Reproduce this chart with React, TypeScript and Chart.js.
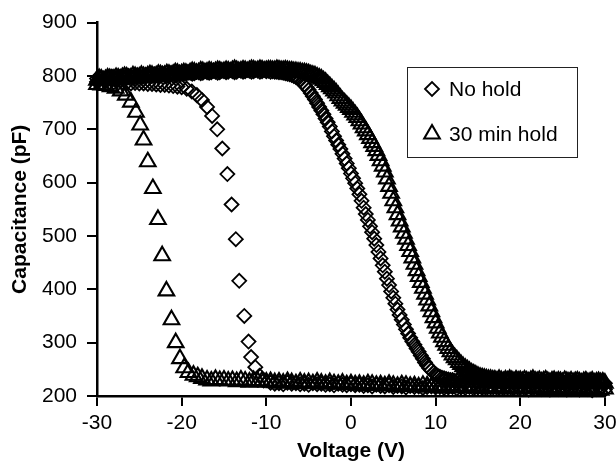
import { useEffect, useRef } from 'react';
import { Chart, registerables } from 'chart.js';
import { drawPoint } from 'chart.js/helpers';

Chart.register(...registerables);

// ---- Data ----
const seriesLabels = ['No hold', '30 min hold'];
const xTicks = [-30, -20, -10, 0, 10, 20, 30];
const yTicks = [200, 300, 400, 500, 600, 700, 800, 900];

// forward sweeps (-30 V -> +30 V), shared voltage list
const forwardVoltage = [
  -30, -29.75, -29.5, -29.25, -29, -28.75, -28.5, -28.25, -28, -27.75, -27.5, -27.25, -27, -26.75, -26.5, -26.25, -26, -25.75, -25.5, -25.25,
  -25, -24.75, -24.5, -24.25, -24, -23.75, -23.5, -23.25, -23, -22.75, -22.5, -22.25, -22, -21.75, -21.5, -21.25, -21, -20.75, -20.5, -20.25,
  -20, -19.75, -19.5, -19.25, -19, -18.75, -18.5, -18.25, -18, -17.75, -17.5, -17.25, -17, -16.75, -16.5, -16.25, -16, -15.75, -15.5, -15.25,
  -15, -14.75, -14.5, -14.25, -14, -13.75, -13.5, -13.25, -13, -12.75, -12.5, -12.25, -12, -11.75, -11.5, -11.25, -11, -10.75, -10.5, -10.25,
  -10, -9.75, -9.5, -9.25, -9, -8.75, -8.5, -8.25, -8, -7.75, -7.5, -7.25, -7, -6.75, -6.5, -6.25, -6, -5.75, -5.5, -5.25,
  -5, -4.75, -4.5, -4.25, -4, -3.75, -3.5, -3.25, -3, -2.75, -2.5, -2.25, -2, -1.75, -1.5, -1.25, -1, -0.75, -0.5, -0.25,
  0, 0.25, 0.5, 0.75, 1, 1.25, 1.5, 1.75, 2, 2.25, 2.5, 2.75, 3, 3.25, 3.5, 3.75, 4, 4.25, 4.5, 4.75,
  5, 5.25, 5.5, 5.75, 6, 6.25, 6.5, 6.75, 7, 7.25, 7.5, 7.75, 8, 8.25, 8.5, 8.75, 9, 9.25, 9.5, 9.75,
  10, 10.25, 10.5, 10.75, 11, 11.25, 11.5, 11.75, 12, 12.25, 12.5, 12.75, 13, 13.25, 13.5, 13.75, 14, 14.25, 14.5, 14.75,
  15, 15.25, 15.5, 15.75, 16, 16.25, 16.5, 16.75, 17, 17.25, 17.5, 17.75, 18, 18.25, 18.5, 18.75, 19, 19.25, 19.5, 19.75,
  20, 20.25, 20.5, 20.75, 21, 21.25, 21.5, 21.75, 22, 22.25, 22.5, 22.75, 23, 23.25, 23.5, 23.75, 24, 24.25, 24.5, 24.75,
  25, 25.25, 25.5, 25.75, 26, 26.25, 26.5, 26.75, 27, 27.25, 27.5, 27.75, 28, 28.25, 28.5, 28.75, 29, 29.25, 29.5, 29.75, 30,
];

const noHoldForward = [
  795, 798, 797, 793, 794, 797, 796, 799, 797, 794, 795, 799, 798, 796, 797, 800, 799, 796, 798, 801,
  800, 797, 799, 802, 801, 798, 800, 803, 802, 799, 801, 804, 803, 800, 802, 805, 804, 801, 803, 806,
  805, 803, 804, 807, 806, 804, 805, 808, 807, 805, 806, 809, 807, 806, 807, 810, 808, 806, 807, 810,
  809, 807, 808, 811, 809, 807, 808, 811, 810, 808, 809, 811, 810, 808, 809, 811, 810, 808, 809, 811,
  809, 810, 808, 809, 808, 808, 807, 807, 806, 805, 804, 803, 802, 800, 798, 795, 792, 788, 784, 779,
  774, 768, 762, 756, 749, 742, 735, 728, 720, 713, 705, 696, 687, 679, 671, 663, 654, 645, 636, 627,
  617, 608, 599, 589, 578, 566, 553, 541, 530, 518, 507, 495, 483, 470, 458, 445, 433, 420, 408, 396,
  384, 373, 362, 352, 343, 334, 325, 317, 309, 302, 296, 289, 283, 276, 270, 263, 257, 252, 248, 244,
  241, 238, 236, 234, 233, 232, 231, 230, 230, 228, 229, 231, 228, 230, 227, 229, 231, 228, 230, 229,
  227, 230, 228, 226, 229, 231, 228, 227, 229, 230, 227, 228, 226, 229, 228, 230, 227, 229, 228, 226,
  227, 229, 226, 228, 230, 227, 225, 228, 229, 226, 228, 227, 225, 229, 227, 226, 228, 225, 227, 229,
  226, 224, 227, 228, 225, 227, 226, 224, 228, 226, 225, 227, 224, 226, 228, 225, 224, 226, 227, 225, 224,
];

const holdForward = [
  792, 795, 794, 791, 793, 796, 795, 792, 794, 797, 796, 793, 797, 799, 798, 795, 796, 800, 799, 797,
  798, 801, 799, 797, 800, 802, 801, 798, 800, 803, 802, 800, 801, 804, 803, 801, 803, 806, 805, 802,
  804, 806, 805, 803, 806, 808, 807, 805, 806, 809, 808, 806, 807, 809, 808, 806, 808, 810, 809, 807,
  808, 810, 809, 807, 810, 812, 810, 808, 809, 811, 810, 808, 810, 812, 811, 809, 810, 812, 811, 809,
  810, 811, 811, 810, 810, 812, 811, 810, 810, 811, 810, 809, 809, 808, 808, 807, 807, 806, 806, 805,
  804, 802, 801, 800, 798, 796, 794, 791, 788, 784, 780, 776, 772, 768, 763, 758, 753, 749, 745, 741,
  737, 732, 727, 722, 716, 710, 703, 697, 690, 683, 675, 668, 660, 651, 641, 631, 620, 607, 593, 580,
  566, 553, 540, 528, 517, 505, 494, 482, 471, 459, 447, 435, 424, 413, 402, 391, 380, 369, 358, 347,
  337, 327, 318, 310, 302, 295, 289, 283, 277, 272, 268, 263, 259, 255, 252, 249, 246, 243, 241, 239,
  237, 235, 234, 233, 232, 231, 231, 230, 230, 228, 231, 229, 227, 230, 228, 231, 229, 227, 230, 228,
  229, 227, 230, 228, 226, 229, 231, 228, 227, 229, 226, 228, 230, 227, 225, 228, 229, 226, 228, 227,
  225, 229, 227, 226, 228, 225, 227, 228, 226, 224, 227, 228, 225, 226, 228, 224, 226, 227, 225, 226, 224,
];

// return sweeps (+30 V -> -30 V)
const noHoldReturnVoltage = [
  30, 29.5, 29, 28.5, 28, 27.5, 27, 26.5, 26, 25.5, 25, 24.5, 24, 23.5, 23, 22.5, 22, 21.5, 21, 20.5,
  20, 19.5, 19, 18.5, 18, 17.5, 17, 16.5, 16, 15.5, 15, 14.5, 14, 13.5, 13, 12.5, 12, 11.5, 11, 10.5,
  10, 9.5, 9, 8.5, 8, 7.5, 7, 6.5, 6, 5.5, 5, 4.5, 4, 3.5, 3, 2.5, 2, 1.5, 1, 0.5,
  0, -0.5, -1, -1.5, -2, -2.5, -3, -3.5, -4, -4.5, -5, -5.5, -6, -6.5, -7, -7.5, -8, -8.5, -9, -9.5,
  -10.3, -10.8, -11.3, -11.8, -12.1, -12.6, -13.2, -13.6, -14.1, -14.6, -15.2, -15.8, -16.4, -17.0, -17.6, -18.2, -18.8, -19.4, -20.0,
  -20.5, -21, -21.5, -22, -22.5, -23, -23.5, -24, -24.5, -25, -25.5, -26, -26.5, -27, -27.5, -28, -28.5, -29, -29.5, -30,
];

const noHoldReturn = [
  212, 214, 213, 211, 213, 215, 212, 214, 213, 212, 214, 213, 215, 212, 214, 213, 215, 214, 212, 214,
  215, 213, 214, 216, 214, 215, 213, 216, 214, 215, 216, 214, 217, 215, 216, 214, 217, 216, 215, 217,
  216, 218, 217, 215, 218, 217, 219, 216, 218, 219, 217, 220, 218, 219, 221, 218, 220, 219, 221, 220,
  222, 220, 221, 223, 220, 222, 221, 223, 222, 224, 221, 223, 222, 224, 223, 225, 222, 224, 223, 225,
  229, 238, 254, 273, 302, 350, 416, 494, 559, 616, 664, 700, 725, 742, 755, 764, 771, 776, 779,
  780, 781, 782, 783, 783, 784, 785, 785, 786, 786, 787, 786, 787, 788, 787, 788, 788, 789, 788, 789,
];

const holdReturnVoltage = [
  30, 29.5, 29, 28.5, 28, 27.5, 27, 26.5, 26, 25.5, 25, 24.5, 24, 23.5, 23, 22.5, 22, 21.5, 21, 20.5,
  20, 19.5, 19, 18.5, 18, 17.5, 17, 16.5, 16, 15.5, 15, 14.5, 14, 13.5, 13, 12.5, 12, 11.5, 11, 10.5,
  10, 9.5, 9, 8.5, 8, 7.5, 7, 6.5, 6, 5.5, 5, 4.5, 4, 3.5, 3, 2.5, 2, 1.5, 1, 0.5,
  0, -0.5, -1, -1.5, -2, -2.5, -3, -3.5, -4, -4.5, -5, -5.5, -6, -6.5, -7, -7.5, -8, -8.5, -9, -9.5,
  -10, -10.5, -11, -11.5, -12, -12.5, -13, -13.5, -14, -14.5, -15, -15.5, -16, -16.5, -17,
  -17.6, -18.1, -18.6, -19.2, -19.7, -20.2, -20.7, -21.2, -21.8, -22.3, -22.8, -23.4, -24.0, -24.5, -24.9, -25.4,
  -26.0, -26.6, -27.2, -27.8, -28.4, -29.0, -29.5, -30.0,
];

const holdReturn = [
  213, 211, 214, 212, 213, 215, 212, 214, 211, 213, 214, 212, 215, 213, 212, 214, 216, 213, 215, 214,
  214, 216, 213, 215, 217, 214, 216, 215, 217, 214, 216, 218, 215, 217, 216, 218, 215, 217, 219, 216,
  218, 217, 219, 220, 217, 219, 218, 220, 221, 218, 220, 222, 219, 221, 220, 222, 223, 220, 222, 221,
  223, 221, 224, 222, 223, 225, 222, 224, 226, 223, 225, 224, 226, 223, 225, 227, 224, 226, 225, 227,
  226, 228, 227, 229, 226, 228, 230, 227, 229, 228, 230, 229, 231, 228, 230,
  233, 236, 239, 244, 253, 270, 300, 343, 397, 463, 531, 589, 639, 680, 708, 732,
  751, 764, 772, 777, 780, 782, 783, 784,
];

const zip = (xs: number[], ys: number[]) => xs.map((x, i) => ({ x, y: ys[i] }));

const FONT = '"Liberation Sans", Arial, Helvetica, sans-serif';

const legendPlugin = {
  id: 'boxLegend',
  afterDraw(chart: any) {
    const ctx = chart.ctx;
    ctx.save();
    ctx.strokeStyle = '#222';
    ctx.lineWidth = 1;
    ctx.strokeRect(407.5, 67.5, 170, 90);
    const rows = [89, 134];
    chart.data.datasets.forEach((ds: any, i: number) => {
      ctx.save();
      ctx.strokeStyle = '#000';
      ctx.fillStyle = 'rgba(0,0,0,0)';
      ctx.lineWidth = ds.pointBorderWidth;
      drawPoint(ctx, { pointStyle: ds.pointStyle, rotation: 0, radius: ds.pointRadius, borderWidth: ds.pointBorderWidth }, 432, rows[i]);
      ctx.restore();
      ctx.fillStyle = '#000';
      ctx.font = '21px ' + FONT;
      ctx.textAlign = 'left';
      ctx.textBaseline = 'middle';
      ctx.fillText(ds.label, 449, rows[i] + 1);
    });
    ctx.restore();
  },
};

export default function App() {
  const ref = useRef<HTMLCanvasElement | null>(null);
  useEffect(() => {
    if (!ref.current) return;
    const chart = new Chart(ref.current, {
      type: 'scatter',
      data: {
        datasets: [
          {
            label: seriesLabels[0],
            data: [...zip(forwardVoltage, noHoldForward), ...zip(noHoldReturnVoltage, noHoldReturn)],
            pointStyle: 'rectRot',
            pointRadius: 7,
            pointBorderWidth: 1.8,
            borderColor: '#000',
            backgroundColor: 'rgba(0,0,0,0)',
            pointBackgroundColor: 'rgba(0,0,0,0)',
            pointBorderColor: '#000',
            clip: false,
          } as any,
          {
            label: seriesLabels[1],
            data: [...zip(forwardVoltage, holdForward), ...zip(holdReturnVoltage, holdReturn)],
            pointStyle: 'triangle',
            pointRadius: 9,
            pointBorderWidth: 2.1,
            borderColor: '#000',
            backgroundColor: 'rgba(0,0,0,0)',
            pointBackgroundColor: 'rgba(0,0,0,0)',
            pointBorderColor: '#000',
            clip: false,
          } as any,
        ],
      },
      options: {
        animation: false,
        responsive: false,
        devicePixelRatio: 1,
        events: [],
        layout: { padding: { top: 18, right: 9, left: 0, bottom: 0 } },
        plugins: { legend: { display: false }, tooltip: { enabled: false } },
        scales: {
          x: {
            type: 'linear',
            min: -30,
            max: 30,
            afterBuildTicks: (s: any) => { s.ticks = xTicks.map((v) => ({ value: v })); },
            afterFit: (s: any) => { s.height = 66; s.paddingLeft = 0; s.paddingRight = 0; },
            ticks: { color: '#000', padding: 5, font: { family: FONT, size: 21 } },
            grid: { display: true, drawOnChartArea: false, drawTicks: true, tickLength: 10, color: '#000', lineWidth: 2 },
            border: { display: true, color: '#000', width: 2.5 },
            title: { display: true, text: 'Voltage (V)', color: '#000', padding: { top: 0, bottom: 0 }, font: { family: FONT, size: 21, weight: 'bold', lineHeight: 1 } },
          },
          y: {
            type: 'linear',
            min: 200,
            max: 900,
            afterBuildTicks: (s: any) => { s.ticks = yTicks.map((v) => ({ value: v })); },
            afterFit: (s: any) => { s.width = 97; },
            ticks: { color: '#000', padding: 10, font: { family: FONT, size: 21 } },
            grid: { display: true, drawOnChartArea: false, drawTicks: true, tickLength: 10, color: '#000', lineWidth: 2 },
            border: { display: true, color: '#000', width: 2.5 },
            title: { display: true, text: 'Capacitance (pF)', color: '#000', padding: { top: 9.5, bottom: 0 }, font: { family: FONT, size: 21, weight: 'bold', lineHeight: 1 } },
          },
        },
      } as any,
      plugins: [legendPlugin],
    });
    return () => chart.destroy();
  }, []);
  return (
    <div style={{ position: 'fixed', left: 0, top: 0, width: 616, height: 462, background: '#fff' }}>
      <canvas ref={ref} width={616} height={462} style={{ width: 616, height: 462, display: 'block' }} />
    </div>
  );
}
